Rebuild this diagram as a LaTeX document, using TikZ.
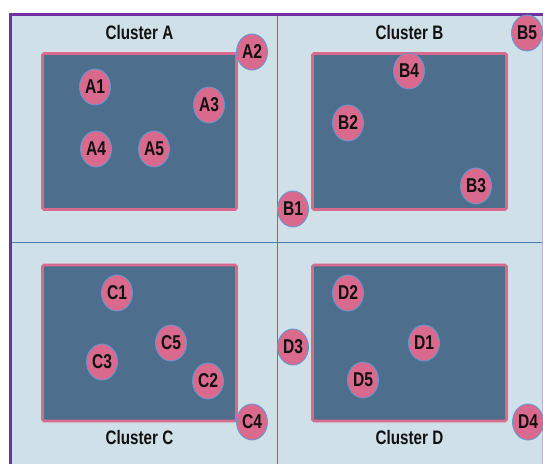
\documentclass[tikz,border=0pt]{standalone}
\usepackage{fontspec}
\setmainfont{Liberation Sans}[FakeStretch=0.78]
\usetikzlibrary{positioning,shapes.geometric}
\definecolor{Pale}{HTML}{CFE0E8}
\definecolor{Grid}{HTML}{4A7FB0}
\definecolor{Frame}{HTML}{7030A0}
\definecolor{Slate}{HTML}{4E6E8E}
\definecolor{Rose}{HTML}{D96A8E}
\definecolor{Sky}{HTML}{5B9BD5}
\definecolor{Ink}{HTML}{111111}

\begin{document}
\begin{tikzpicture}[
  x=1pt,y=-1pt,
  cluster/.style={draw=Rose,fill=Slate,line width=2.6pt,rounded corners=1.5pt,minimum width=194pt,minimum height=156pt,inner sep=0pt},
  member/.style={ellipse,draw=Sky,fill=Rose,line width=0.8pt,minimum width=31pt,minimum height=36pt,inner sep=0pt,text=Ink,font=\bfseries\fontsize{20}{20}\selectfont},
  title/.style={text=Ink,font=\bfseries\fontsize{19.5}{20}\selectfont}
]
\useasboundingbox (0,0) rectangle (543,463);
% background and grid
\fill[Pale] (10,14) rectangle (542,480);
\draw[Grid,line width=0.8pt] (277,14) -- (277,480);
\draw[Grid,line width=0.8pt] (10,242) -- (542,242);
\draw[Frame!40,line width=0.8pt] (542,14) -- (542,480);
\draw[Frame,line width=3pt] (10,480) -- (10,14) -- (545,14);

% clusters
\node[cluster] (boxA) at (139.5,131.5) {};
\node[cluster] (boxB) at (409.5,131.5) {};
\node[cluster] (boxC) at (139.5,343) {};
\node[cluster] (boxD) at (409.5,343) {};
\node[title,above=9pt of boxA] (titleA) {Cluster A};
\node[title,above=9pt of boxB] (titleB) {Cluster B};
\node[title,below=5pt of boxC] (titleC) {Cluster C};
\node[title,below=5pt of boxD] (titleD) {Cluster D};

% members
\node[member] (A1) at (95,87) {A1};
\node[member] (A2) at (252,52) {A2};
\node[member] (A3) at (209,105) {A3};
\node[member] (A4) at (96,149) {A4};
\node[member] (A5) at (154,149) {A5};
\node[member] (B1) at (293,209) {B1};
\node[member] (B2) at (348,123) {B2};
\node[member] (B3) at (476,186) {B3};
\node[member] (B4) at (409,71) {B4};
\node[member] (B5) at (527,33) {B5};
\node[member] (C1) at (117,293) {C1};
\node[member] (C2) at (208,381) {C2};
\node[member] (C3) at (102,362) {C3};
\node[member] (C4) at (252,422) {C4};
\node[member] (C5) at (171,343) {C5};
\node[member] (D1) at (424,343) {D1};
\node[member] (D2) at (348,293) {D2};
\node[member] (D3) at (293,347) {D3};
\node[member] (D4) at (528,422) {D4};
\node[member] (D5) at (363,380) {D5};
\end{tikzpicture}
\end{document}
